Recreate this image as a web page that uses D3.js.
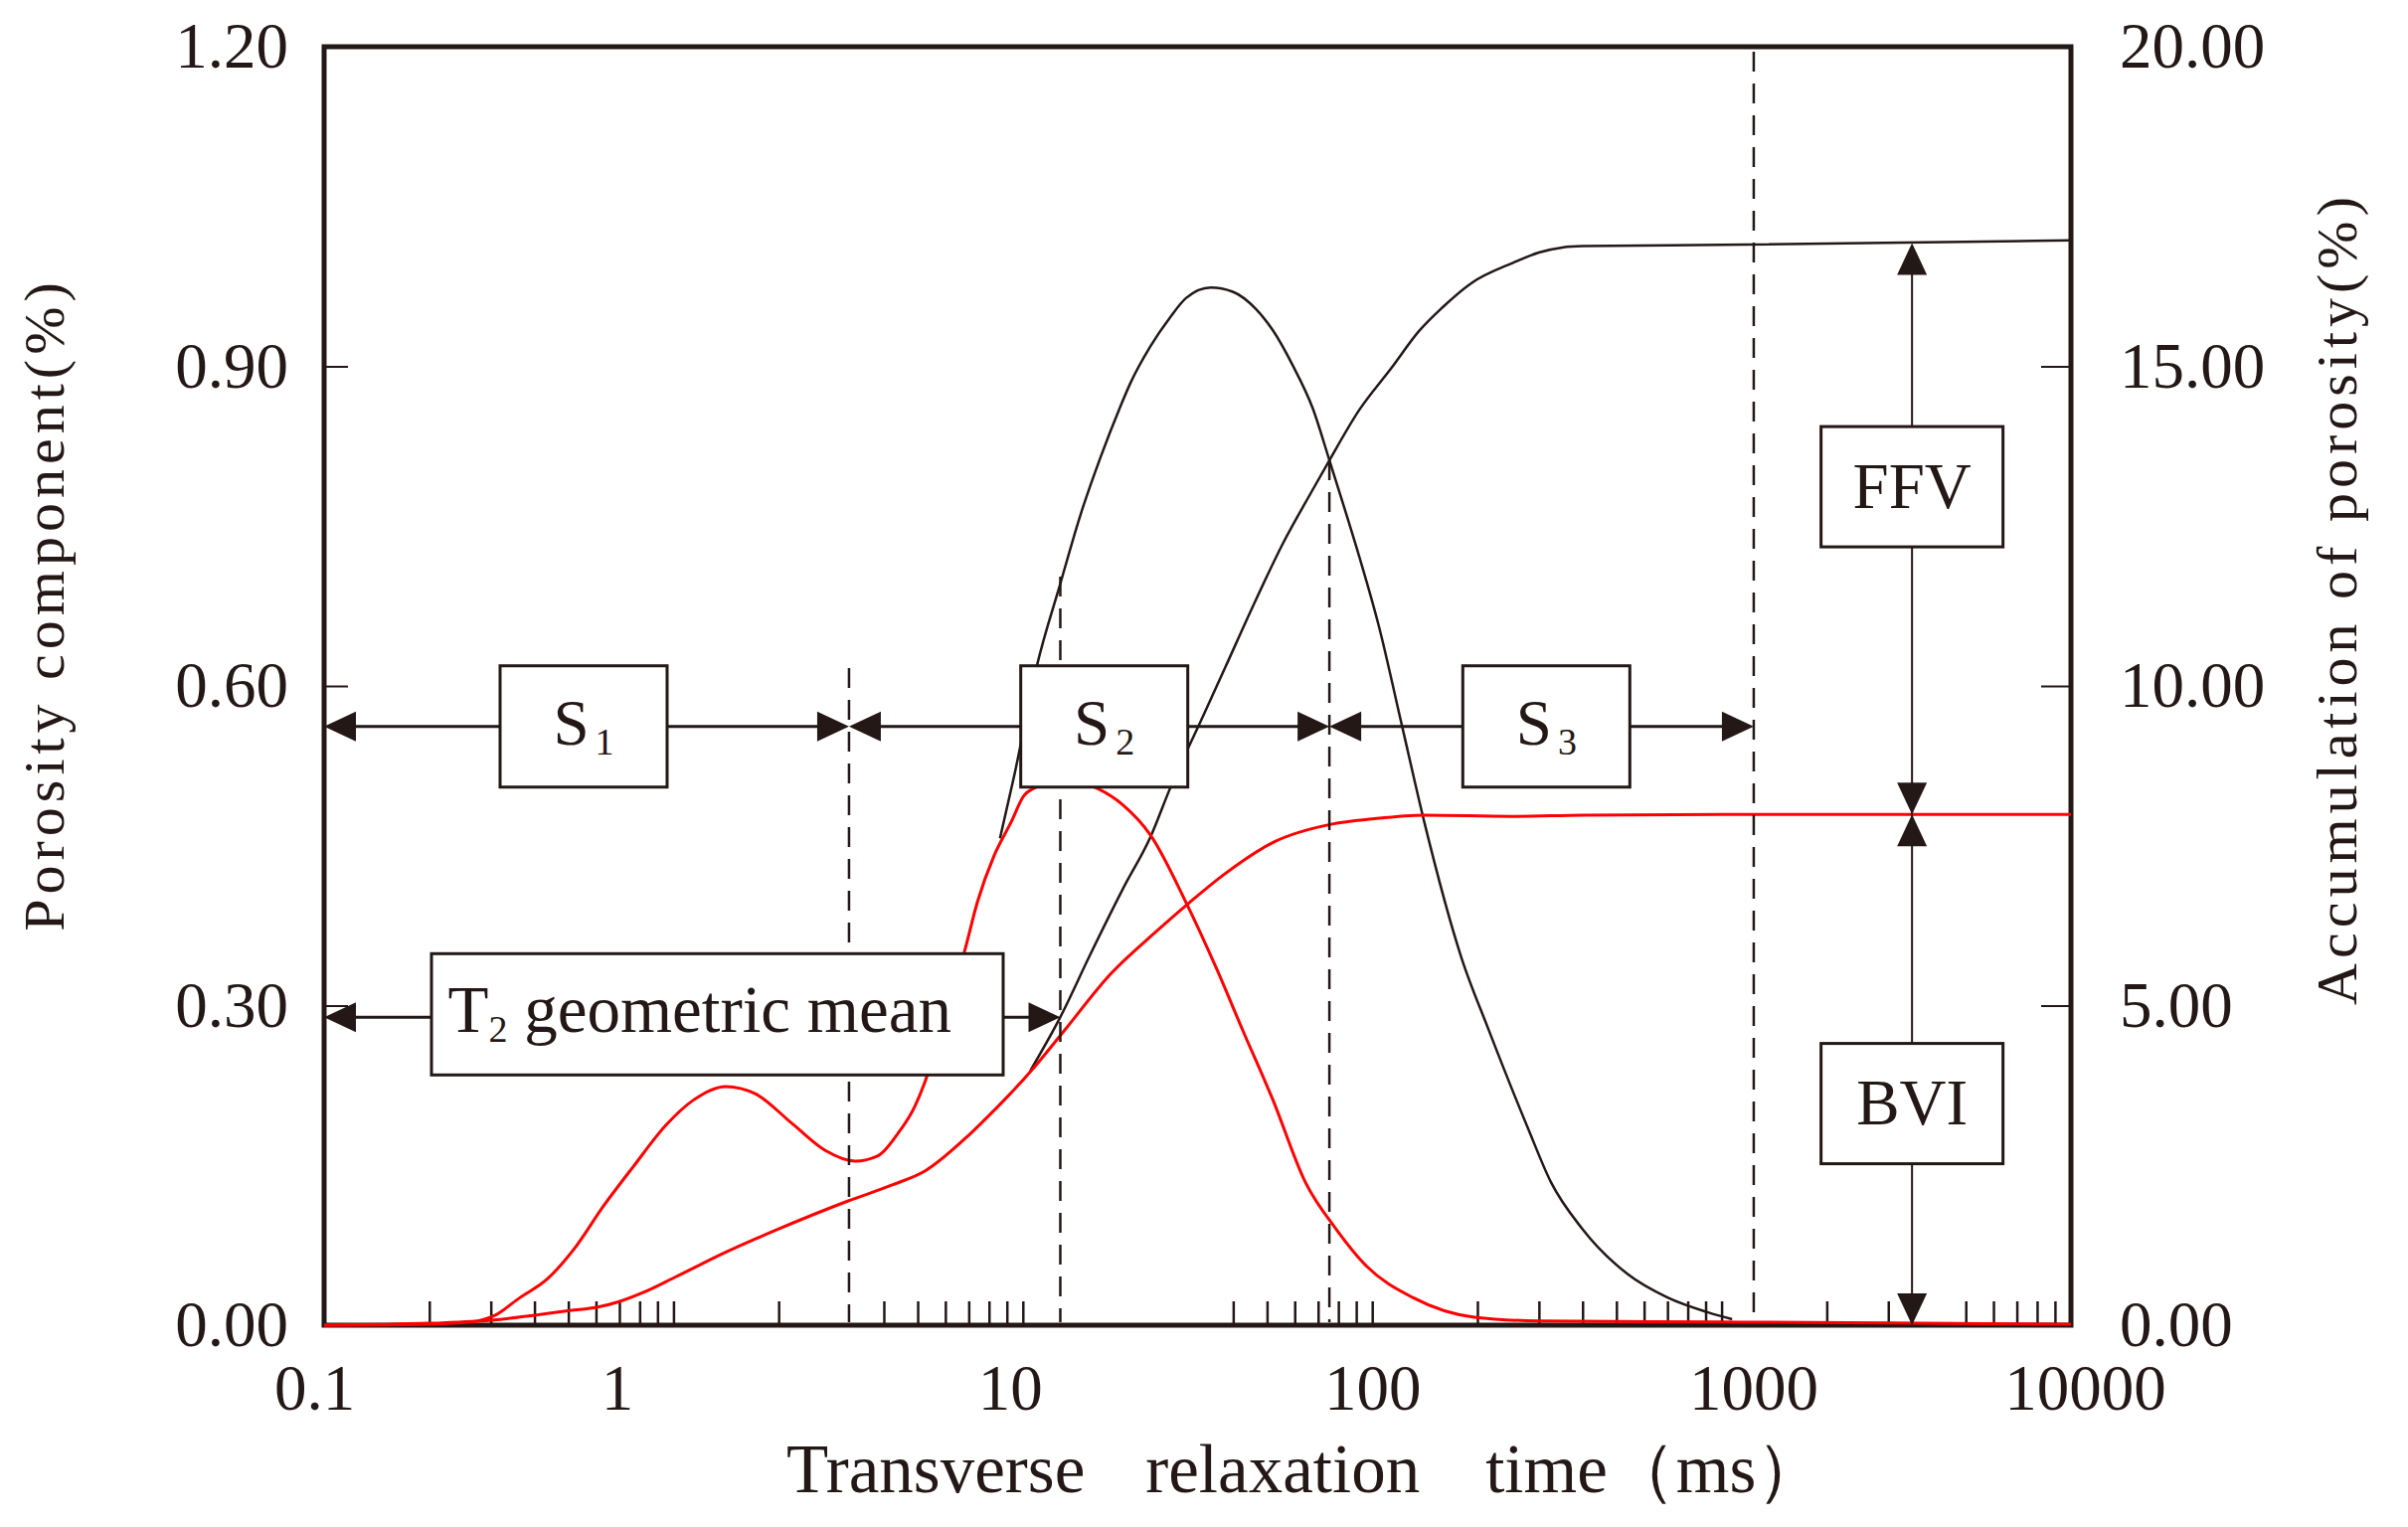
<!DOCTYPE html>
<html>
<head>
<meta charset="utf-8">
<script src="https://cdn.jsdelivr.net/npm/d3@7"></script>
<style>
  body { margin: 0; background: #fff; }
  text { font-family: "Liberation Serif", "Times New Roman", serif; fill: #231815; }
</style>
</head>
<body>
<svg id="chart" width="2422" height="1536"></svg>
<script>
// ---- values (T2 in ms) ----
const redT2 = [0.1, 0.2, 0.262, 0.307, 0.364, 0.434, 0.518, 0.631, 0.768, 0.953, 1.137, 1.41, 1.72, 2.19, 2.72, 3.31, 3.85, 4.39, 4.9, 5.24, 5.97, 6.81, 7.41, 8.28, 9.25, 10.07, 10.76, 13.1, 16.3, 19.4, 23.2, 29.3, 35.7, 42.7, 51.9, 64.4, 78.9, 96.6, 130.6, 196, 300, 1000, 3000, 10000];
const redComponent = [0, 0.001, 0.003, 0.009, 0.026, 0.043, 0.071, 0.112, 0.149, 0.188, 0.211, 0.224, 0.217, 0.189, 0.164, 0.154, 0.159, 0.18, 0.205, 0.228, 0.289, 0.351, 0.397, 0.441, 0.472, 0.497, 0.504, 0.512, 0.504, 0.488, 0.46, 0.397, 0.336, 0.276, 0.212, 0.134, 0.09, 0.055, 0.026, 0.0075, 0.004, 0.003, 0.002, 0.001];

const redCumT2 = [0.1, 0.2, 0.307, 0.406, 0.505, 0.603, 0.7, 0.818, 1.01, 1.41, 1.97, 3.15, 4.21, 5.24, 6.93, 7.6, 10.8, 13.1, 17.8, 24.1, 30.1, 37.4, 51.9, 76.9, 100, 141, 250, 400, 1000, 10000];
const redCumulative = [0, 0.03, 0.08, 0.16, 0.23, 0.28, 0.37, 0.51, 0.75, 1.14, 1.49, 1.94, 2.19, 2.41, 2.95, 3.16, 4.04, 4.6, 5.49, 6.16, 6.62, 7.04, 7.55, 7.84, 7.92, 7.98, 7.96, 7.98, 7.99, 7.99];

const blackT2 = [8.6, 9.45, 10.97, 12.8, 14.6, 16.7, 19.0, 20.3, 23.2, 26.4, 29.3, 34.5, 39.9, 46.4, 51.9, 59.2, 67.5, 75.4, 82.0, 91.7, 104.5, 121.6, 141, 180, 215, 279, 325, 398, 538, 700, 915, 1072];
const blackComponent = [0.457, 0.516, 0.619, 0.696, 0.76, 0.815, 0.862, 0.884, 0.919, 0.946, 0.964, 0.974, 0.97, 0.954, 0.934, 0.901, 0.861, 0.812, 0.774, 0.722, 0.656, 0.563, 0.472, 0.345, 0.278, 0.185, 0.134, 0.091, 0.048, 0.026, 0.012, 0.0056];

const blackCumT2 = [10.5, 12.8, 15.6, 19.4, 23.2, 26.4, 32.8, 38.1, 45.5, 55.4, 67.4, 75.4, 91.6, 113.7, 136, 158, 192, 253, 300, 350, 400, 1000, 10000];
const blackCumulative = [3.98, 4.82, 5.8, 6.84, 7.64, 8.4, 9.53, 10.31, 11.24, 12.22, 13.06, 13.53, 14.31, 14.98, 15.55, 15.91, 16.3, 16.62, 16.78, 16.86, 16.88, 16.9, 16.97];

// ---- axes ----
const xLabelValues = [0.1, 1, 10, 100, 1000, 10000];
const xMinorTicks = [0.2, 0.3, 0.4, 0.5, 0.6, 0.7, 0.8, 0.9, 1, 2, 4, 5, 6, 7, 8, 9, 10, 40, 50, 60, 70, 80, 90, 100,
  200, 300, 400, 500, 600, 700, 800, 900, 1000, 2000, 3000, 5000, 6000, 7000, 8000, 9000];
const leftTicks = [0, 0.3, 0.6, 0.9, 1.2];
const rightTicks = [0, 5, 10, 15, 20];

// boundaries (ms) and annotation rows
const segmentBounds = [0.1, 3.18, 75.4, 1236];   // S1 | S2 | S3 ends
const t2MeanValue = 12.8;
const segmentNames = ["1", "2", "3"];
const segmentCentres = [0.553, 17.1, 315];

const ink = "#231815";
const red = "#ff0000";
const serif = '"Liberation Serif", "Times New Roman", serif';

const svg = d3.select("#chart");

const x = d3.scaleLog().domain([0.1, 10000]).range([326, 2083]);
const yL = d3.scaleLinear().domain([0, 1.2]).range([1333, 47]);
const yR = d3.scaleLinear().domain([0, 20]).range([1333, 47]);

// frame
svg.append("rect")
  .attr("x", x(0.1)).attr("y", yL(1.2))
  .attr("width", x(10000) - x(0.1)).attr("height", yL(0) - yL(1.2))
  .attr("fill", "none").attr("stroke", ink).attr("stroke-width", 5);

// bottom ticks (inward)
svg.append("g")
  .attr("transform", `translate(0,${yL(0)})`)
  .attr("color", ink)
  .call(d3.axisBottom(x).tickValues(xMinorTicks).tickSize(-24).tickFormat(""))
  .call(g => g.select(".domain").remove())
  .call(g => g.selectAll("line").attr("stroke-width", 2.5));

// bottom labels, nudged where the original put them off their ticks
const labelNudge = { 0.1: -10, 1: -57, 10: -13, 100: 0, 1000: 32, 10000: 14 };
svg.append("g")
  .attr("transform", `translate(0,${yL(0)})`)
  .attr("color", ink)
  .call(d3.axisBottom(x).tickValues(xLabelValues).tickSize(0).tickPadding(39).tickFormat(d3.format("~g")))
  .attr("font-family", serif).attr("font-size", 65)
  .call(g => g.select(".domain").remove())
  .call(g => g.selectAll("text").attr("dx", d => labelNudge[d]));

// left axis
svg.append("g")
  .attr("transform", `translate(${x(0.1)},0)`)
  .attr("color", ink)
  .call(d3.axisLeft(yL).tickValues(leftTicks).tickSize(-24).tickPadding(36).tickFormat(d3.format(".2f")))
  .attr("font-family", serif).attr("font-size", 65)
  .call(g => g.select(".domain").remove())
  .call(g => g.selectAll("line").attr("stroke-width", 2));

// right axis
svg.append("g")
  .attr("transform", `translate(${x(10000)},0)`)
  .attr("color", ink)
  .call(d3.axisRight(yR).tickValues(rightTicks).tickSize(-30).tickPadding(49).tickFormat(d3.format(".2f")))
  .attr("font-family", serif).attr("font-size", 65)
  .call(g => g.select(".domain").remove())
  .call(g => g.selectAll("line").attr("stroke-width", 2));

// curves
function curve(xs, ys, yScale, colour, width) {
  const line = d3.line().x(d => x(d[0])).y(d => yScale(d[1])).curve(d3.curveMonotoneX);
  svg.append("path")
    .datum(d3.zip(xs, ys))
    .attr("d", line)
    .attr("fill", "none")
    .attr("stroke", colour)
    .attr("stroke-width", width)
    .attr("stroke-linejoin", "round");
}
curve(blackT2, blackComponent, yL, ink, 2.5);
curve(blackCumT2, blackCumulative, yR, ink, 2.5);
curve(redT2, redComponent, yL, red, 3);
curve(redCumT2, redCumulative, yR, red, 3);

// dashed boundaries
const dashed = [
  { t: segmentBounds[1], top: 672 },
  { t: t2MeanValue, top: 580 },
  { t: segmentBounds[2], top: 463 },
  { t: segmentBounds[3], top: 52 }
];
svg.append("g").selectAll("line")
  .data(dashed)
  .join("line")
  .attr("x1", d => x(d.t)).attr("x2", d => x(d.t))
  .attr("y1", d => d.top).attr("y2", yL(0) - 3)
  .attr("stroke", ink).attr("stroke-width", 2.5)
  .attr("stroke-dasharray", "20,12");

// arrows
const ann = svg.append("g");
function head(tx, ty, dir) {
  const L = 32, H = 15;
  const p = {
    left: [[tx, ty], [tx + L, ty - H], [tx + L, ty + H]],
    right: [[tx, ty], [tx - L, ty - H], [tx - L, ty + H]],
    up: [[tx, ty], [tx - H, ty + L], [tx + H, ty + L]],
    down: [[tx, ty], [tx - H, ty - L], [tx + H, ty - L]]
  }[dir];
  ann.append("path").attr("d", "M" + p.join("L") + "Z").attr("fill", ink);
}
function hline(x1, x2, y, w) {
  ann.append("line").attr("x1", x1).attr("x2", x2).attr("y1", y).attr("y2", y)
    .attr("stroke", ink).attr("stroke-width", w);
}
function vline(xp, y1, y2, w) {
  ann.append("line").attr("x1", xp).attr("x2", xp).attr("y1", y1).attr("y2", y2)
    .attr("stroke", ink).attr("stroke-width", w);
}
function box(cx, cy, w, h) {
  ann.append("rect").attr("x", cx - w / 2).attr("y", cy - h / 2)
    .attr("width", w).attr("height", h)
    .attr("fill", "#fff").attr("stroke", ink).attr("stroke-width", 3);
}

// S1, S2, S3 row
const sRow = yL(0.562);
segmentNames.forEach((name, i) => {
  const a = x(segmentBounds[i]), b = x(segmentBounds[i + 1]);
  hline(a + 20, b - 20, sRow, 3);
  head(a, sRow, "left");
  head(b, sRow, "right");
  const cx = x(segmentCentres[i]);
  box(cx, sRow, 168, 122);
  const t = ann.append("text").attr("x", cx).attr("y", sRow + 18)
    .attr("text-anchor", "middle").attr("font-size", 65);
  t.append("tspan").text("S");
  t.append("tspan").attr("font-size", 38).attr("dx", 6).attr("dy", 10).text(name);
});

// T2 geometric mean row
const tRow = yL(0.289);
hline(x(0.1) + 20, x(t2MeanValue) - 20, tRow, 3);
head(x(0.1), tRow, "left");
head(x(t2MeanValue), tRow, "right");
box(x(1.335), tRow - 3, 575, 122);
const tt = ann.append("text").attr("x", x(1.335) - 271).attr("y", tRow + 15).attr("font-size", 67);
tt.append("tspan").text("T");
tt.append("tspan").attr("font-size", 38).attr("dy", 10).text("2");
tt.append("tspan").attr("dy", -10).text(" geometric mean");

// FFV / BVI column
const vx = x(3508);
const ffvTop = yR(16.93), split = yR(7.99), base = yL(0);
vline(vx, ffvTop + 20, base - 20, 2);
head(vx, ffvTop, "up");
head(vx, split, "down");
head(vx, split, "up");
head(vx, base, "down");
box(vx, yL(0.787), 183, 121);
box(vx, yL(0.208), 183, 121);
ann.append("text").attr("x", vx).attr("y", yL(0.787) + 21)
  .attr("text-anchor", "middle").attr("font-size", 65).text("FFV");
ann.append("text").attr("x", vx).attr("y", yL(0.208) + 21)
  .attr("text-anchor", "middle").attr("font-size", 65).text("BVI");

// axis titles
const xt = svg.append("text").attr("x", 791).attr("y", 1501).attr("font-size", 69);
xt.append("tspan").text("Transverse");
xt.append("tspan").attr("dx", 61).text("relaxation");
xt.append("tspan").attr("dx", 66).text("time（ms）");

svg.append("text")
  .attr("transform", "translate(64,608) rotate(-90)")
  .attr("text-anchor", "middle").attr("font-size", 58).attr("letter-spacing", 5)
  .text("Porosity component(%)");

svg.append("text")
  .attr("transform", "translate(2370,602) rotate(-90)")
  .attr("text-anchor", "middle").attr("font-size", 58).attr("letter-spacing", 5)
  .text("Accumulation of porosity(%)");
</script>
</body>
</html>
